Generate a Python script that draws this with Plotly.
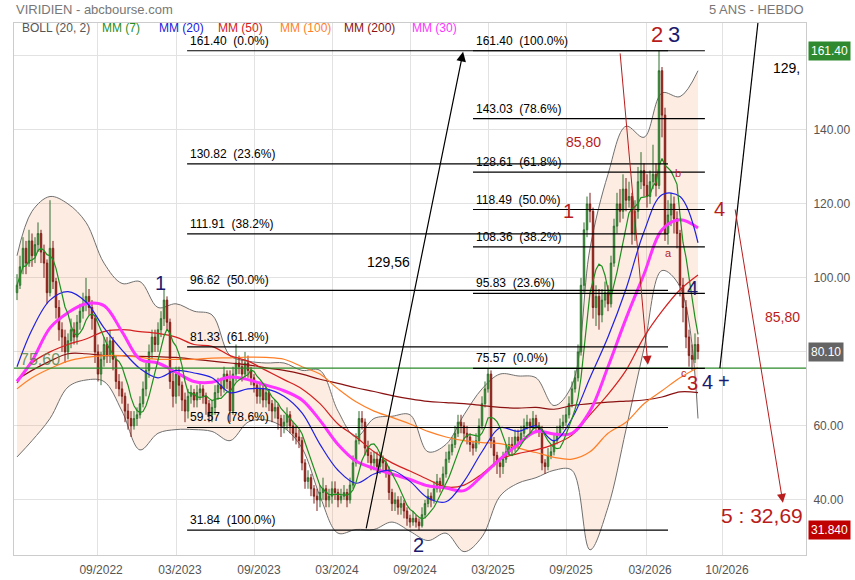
import pandas as pd
import plotly.graph_objects as go

# weekly candles (week index 1..228)
opens = [
    96, 98, 103, 108, 104, 110, 106, 109, 112, 107,
    104, 96, 108, 99, 92, 86, 84, 80, 83, 86,
    84, 88, 91, 93, 95, 92, 89, 80, 74, 78,
    82, 79, 83, 78, 72, 70, 68, 64, 62, 60,
    62, 63, 66, 70, 75, 80, 84, 82, 86, 89,
    94, 88, 72, 68, 74, 71, 67, 64, 68, 69,
    67, 69, 70, 68, 66, 63, 65, 69, 71, 70,
    74, 72, 64, 74, 77, 76, 74, 77, 75, 73,
    71, 68, 70, 67, 69, 66, 64, 65, 62, 60,
    61, 63, 60, 58, 57, 56, 50, 45, 46, 43,
    41, 40, 42, 43, 40, 41, 43, 42, 40, 41,
    42, 40, 44, 50, 56, 62, 61, 54, 52, 50,
    51, 49, 51, 50, 48, 42, 39, 40, 38, 39,
    37, 35, 34, 35, 34, 33, 36, 39, 41, 40,
    43, 45, 44, 47, 51, 53, 55, 58, 61, 60,
    58, 57, 55, 54, 56, 60, 66, 70, 74, 56,
    52, 50, 49, 51, 53, 55, 54, 57, 56, 58,
    60, 61, 60, 62, 60, 59, 50, 49, 52, 53,
    56, 58, 60, 61, 63, 66, 70, 73, 80, 98,
    113, 120, 118, 92, 95, 90, 94, 96, 93, 104,
    114, 120, 118, 124, 121, 122, 112, 118, 126, 129,
    125, 122, 126, 128, 125, 156, 144, 112, 117, 120,
    116, 112, 98, 92, 84, 79, 78, 82]
highs = [
    101, 106, 111, 110, 113, 112, 111, 115, 113, 109,
    105, 121, 110, 100, 94, 88, 86, 85, 89, 88,
    90, 93, 96, 100, 97, 94, 90, 82, 80, 84,
    84, 86, 84, 79, 74, 72, 69, 66, 64, 64,
    65, 68, 72, 77, 82, 86, 86, 88, 91, 97,
    95, 89, 75, 76, 76, 72, 69, 70, 71, 70,
    71, 72, 71, 69, 67, 67, 71, 73, 73, 76,
    75, 75, 76, 82, 79, 78, 80, 79, 76, 74,
    72, 72, 71, 71, 70, 67, 67, 66, 63, 63,
    65, 64, 61, 60, 59, 57, 51, 48, 47, 44,
    43, 44, 46, 44, 43, 45, 45, 43, 43, 44,
    43, 46, 52, 58, 64, 64, 62, 56, 53, 53,
    53, 53, 52, 51, 49, 43, 42, 41, 41, 40,
    38, 36, 37, 36, 35, 38, 40, 43, 42, 45,
    47, 46, 49, 53, 55, 57, 60, 63, 63, 61,
    60, 58, 56, 58, 62, 68, 72, 75.57, 75, 57,
    53, 51, 53, 55, 57, 57, 59, 59, 60, 62,
    63, 62, 64, 63, 61, 60, 51, 54, 55, 58,
    60, 62, 63, 65, 68, 72, 75, 82, 100, 115,
    122, 123, 119, 98, 97, 97, 99, 98, 106, 116,
    123, 124, 128, 127, 126, 123, 121, 130, 134, 131,
    128, 129, 136, 131, 161.4, 157, 146, 121, 123, 122,
    118, 113, 100, 94, 86, 82, 85, 84]
lows = [
    94, 97, 101, 101, 103, 103, 104, 107, 104, 100,
    93, 95, 97, 89, 83, 80, 77, 78, 81, 82,
    82, 86, 89, 91, 90, 86, 77, 72, 71, 76,
    77, 77, 75, 70, 68, 66, 61, 59, 57, 59,
    60, 62, 65, 68, 73, 78, 80, 80, 84, 87,
    86, 70, 65, 66, 68, 64, 61, 62, 66, 65,
    65, 67, 66, 63, 61, 61, 63, 67, 68, 69,
    70, 61, 63, 72, 74, 72, 73, 73, 71, 69,
    66, 66, 65, 65, 64, 61, 62, 59, 57, 58,
    59, 58, 56, 55, 54, 48, 43, 43, 41, 39,
    37, 38, 40, 38, 38, 39, 40, 38, 39, 40,
    38, 39, 43, 49, 55, 59, 52, 50, 48, 48,
    47, 47, 48, 46, 40, 37, 37, 36, 36, 35,
    33, 32.5, 33, 32.5, 31.84, 32.5, 35, 38, 38, 39,
    42, 42, 43, 46, 50, 52, 54, 57, 58, 56,
    55, 53, 52, 53, 55, 59, 65, 69, 54, 49,
    47, 46, 47, 50, 52, 52, 53, 54, 55, 57,
    59, 58, 59, 58, 57, 48, 47, 48, 51, 52,
    55, 57, 59, 60, 62, 65, 69, 72, 79, 96,
    111, 115, 89, 87, 86, 88, 92, 91, 92, 103,
    112, 115, 116, 118, 119, 109, 110, 116, 124, 122,
    119, 120, 124, 122, 124, 138, 110, 109, 114, 112,
    108, 95, 88, 81, 76, 75, 77, 78]
closes = [
    98, 103, 108, 104, 110, 106, 109, 112, 107, 104,
    96, 108, 99, 92, 86, 84, 80, 83, 86, 84,
    88, 91, 93, 95, 92, 89, 80, 74, 78, 82,
    79, 83, 78, 72, 70, 68, 64, 62, 60, 62,
    63, 66, 70, 75, 80, 84, 82, 86, 89, 94,
    88, 72, 68, 74, 71, 67, 64, 68, 69, 67,
    69, 70, 68, 66, 63, 65, 69, 71, 70, 74,
    72, 64, 74, 77, 76, 74, 77, 75, 73, 71,
    68, 70, 67, 69, 66, 64, 65, 62, 60, 61,
    63, 60, 58, 57, 56, 50, 45, 46, 43, 41,
    40, 42, 43, 40, 41, 43, 42, 40, 41, 42,
    40, 44, 50, 56, 62, 61, 54, 52, 50, 51,
    49, 51, 50, 48, 42, 39, 40, 38, 39, 37,
    35, 34, 35, 34, 33, 36, 39, 41, 40, 43,
    45, 44, 47, 51, 53, 55, 58, 61, 60, 58,
    57, 55, 54, 56, 60, 66, 70, 74, 56, 52,
    50, 49, 51, 53, 55, 54, 57, 56, 58, 60,
    61, 60, 62, 60, 59, 50, 49, 52, 53, 56,
    58, 60, 61, 63, 66, 70, 73, 80, 98, 113,
    120, 118, 92, 95, 90, 94, 96, 93, 104, 114,
    120, 118, 124, 121, 122, 112, 118, 126, 129, 125,
    122, 126, 128, 125, 156, 144, 112, 117, 120, 116,
    112, 98, 92, 84, 79, 78, 82, 80.1]
assert len(opens) == len(highs) == len(lows) == len(closes)
weeks = list(range(1, len(closes) + 1))

# indicators every 6 weeks
ind_weeks = [1, 6, 12, 18, 24, 30, 36, 42, 48, 54, 60, 66, 72, 78, 84, 90, 96, 102, 108, 114,
             120, 126, 132, 138, 144, 150, 156, 162, 168, 174, 180, 186, 192, 198, 204, 210, 216, 222, 228]
boll_up = [106, 118, 122, 120, 115, 104, 98.5, 99, 92, 93, 91, 90, 79, 77.5, 77, 77, 75, 75, 64, 57,
           62, 62.6, 63, 53, 55, 63, 70, 74, 73.5, 73, 65.5, 71, 108, 128, 141, 138, 150, 149, 156]
boll_low = [51.6, 56, 62, 70.5, 72.4, 72, 64, 53.5, 58, 59, 59, 58.5, 56, 61, 61.6, 59.5, 54, 41, 31, 32,
            32, 34, 31.5, 29, 31, 26, 30, 41, 44.5, 46, 48, 48, 26.5, 38, 59, 81, 102, 97.6, 62]
mm20 = [76, 86, 94, 96.3, 93.5, 86.5, 80.5, 75.5, 73, 75, 74.3, 73, 69, 70, 70, 68, 63.5, 55, 48, 44.5,
        47, 48, 45, 40.5, 39.5, 45, 53, 59.5, 58.5, 60, 56, 62, 73, 84, 97, 112.5, 122.5, 122, 109.5]
mm30 = [72, 77.5, 86.5, 90.6, 93, 92.5, 85.5, 78, 77, 74.5, 72, 71.8, 73.2, 72.5, 71, 69.5, 67, 61.5, 55, 50.5,
        48.5, 47, 45.5, 43.8, 43.2, 42.5, 46.5, 51, 55, 58.5, 57.8, 58, 64, 76, 89, 101, 113, 115.7, 113.5]
mm50 = [71.6, 77, 80, 82, 83.5, 85.5, 86, 85.5, 85, 84, 82, 81.5, 79, 77.5, 75, 72.5, 70, 66, 60.5, 57,
        53, 50, 47.8, 45.5, 43.5, 44, 47, 51, 52.5, 53.5, 55, 57.5, 63, 68.5, 75, 84, 91, 96.8, 100.8]
mm100 = [70, 73, 75.5, 77.5, 78.5, 79, 79, 78.5, 78, 78, 78, 78.3, 78.4, 78.6, 78.5, 78, 76, 74, 70, 66.5,
         64, 62.3, 60.5, 58.5, 57, 56, 55.5, 55.2, 54, 52.8, 51.5, 51, 53, 58, 61, 66, 69.5, 73, 75.8]
mm200 = [72.5, 75, 77.5, 79.5, 79.5, 79, 79, 78.8, 78.7, 78.5, 78, 77.5, 77, 76.5, 75.7, 75, 74, 72.6, 71.5, 70.3,
         69.3, 68.2, 67.3, 66.6, 66.3, 66, 65.5, 65, 64.8, 65, 64.5, 65.5, 66, 66.4, 66.7, 67, 67.8, 69.2, 69]
mm7 = pd.Series(closes).rolling(7, min_periods=1).mean()

fib_left = [161.40, 130.82, 111.91, 96.62, 81.33, 59.57, 31.84]
fib_left_pct = ["0.0%", "23.6%", "38.2%", "50.0%", "61.8%", "78.6%", "100.0%"]
fib_right = [161.40, 143.03, 128.61, 118.49, 108.36, 95.83, 75.57]
fib_right_pct = ["100.0%", "78.6%", "61.8%", "50.0%", "38.2%", "23.6%", "0.0%"]

tick_pos = [27.7, 54, 80.3, 106.3, 132.3, 158.3, 184.3, 210.7, 236.3]
tick_labels = ["09/2022", "03/2023", "09/2023", "03/2024", "09/2024", "03/2025", "09/2025", "03/2026", "10/2026"]
price_ticks = [40, 60, 80, 100, 120, 140, 160]
# 80 and 160 sit under the price badges, so their labels stay blank
price_labels = ["40.00", "60.00", "", "100.00", "120.00", "140.00", ""]

support = 75.60
last_close = 80.10
top_level = 161.40
low_level = 31.84

RED = "#b81c1c"
NAVY = "#1a1a6e"
FONT = "Liberation Sans"
YRANGE = [25.1, 168.9]

fig = go.Figure()

# bollinger band on the base axis, everything else on an overlay axis drawn above it
fig.add_trace(go.Scatter(x=ind_weeks, y=boll_up, mode="lines", line=dict(color="#707070", width=1, shape="spline"),
                         hoverinfo="skip"))
fig.add_trace(go.Scatter(x=ind_weeks, y=boll_low, mode="lines", line=dict(color="#707070", width=1, shape="spline"),
                         fill="tonexty", fillcolor="rgba(244,150,95,0.18)", hoverinfo="skip"))

fig.add_trace(go.Candlestick(
    x=weeks, open=opens, high=highs, low=lows, close=closes, whiskerwidth=0, yaxis="y2",
    increasing=dict(fillcolor="#3cbf3c", line=dict(color="#2f6f2f", width=1)),
    decreasing=dict(fillcolor="#cc2a1e", line=dict(color="#7c1f18", width=1)),
    hoverinfo="skip"))

def ma_line(y, color, width, x=ind_weeks, shape="spline"):
    fig.add_trace(go.Scatter(x=x, y=y, mode="lines", line=dict(color=color, width=width, shape=shape),
                             yaxis="y2", hoverinfo="skip"))

ma_line(mm200, "#8b1212", 1.2)
ma_line(mm100, "#ff7f27", 1.2)
ma_line(mm50, "#d42020", 1.2)
ma_line(mm30, "#ff33ff", 3)
ma_line(mm20, "#2020e0", 1.2)
ma_line(list(mm7), "#1f8f1f", 1.2, x=weeks, shape="linear")

shapes = []
annotations = []

# support line
shapes.append(dict(type="line", xref="paper", x0=0, x1=1, yref="y", y0=support, y1=support,
                   line=dict(color="#2a8a2a", width=1.2)))
annotations.append(dict(x=1.3, y=support + 2.4, text="75.60", showarrow=False, xanchor="left",
                        font=dict(size=16, color="rgba(70,125,70,0.8)")))

# fibonacci retracements
for lvl, pct in zip(fib_left, fib_left_pct):
    shapes.append(dict(type="line", x0=57.7, x1=218, y0=lvl, y1=lvl, line=dict(color="black", width=1.2)))
    annotations.append(dict(x=58, y=lvl, text=f"{lvl:.2f}\u00a0\u00a0({pct})", showarrow=False,
                            xanchor="left", yanchor="bottom", yshift=1, font=dict(size=12, color="black")))
for lvl, pct in zip(fib_right, fib_right_pct):
    shapes.append(dict(type="line", x0=153, x1=230.3, y0=lvl, y1=lvl, line=dict(color="black", width=1.2)))
    annotations.append(dict(x=153.3, y=lvl, text=f"{lvl:.2f}\u00a0\u00a0({pct})", showarrow=False,
                            xanchor="left", yanchor="bottom", yshift=1, font=dict(size=12, color="black")))

# trend arrows
annotations.append(dict(x=149.7, y=161.1, ax=117.3, ay=31.9, axref="x", ayref="y", text="", showarrow=True,
                        arrowhead=2, arrowsize=1.6, arrowwidth=1.2, arrowcolor="black"))
shapes.append(dict(type="line", x0=235.3, y0=support, x1=248.8, y1=175, line=dict(color="black", width=1.2)))
annotations.append(dict(x=211.3, y=76.5, ax=202, ay=161.1, axref="x", ayref="y", text="", showarrow=True,
                        arrowhead=2, arrowsize=1.8, arrowwidth=1, arrowcolor=RED))
annotations.append(dict(x=256.3, y=39.2, ax=240.3, ay=118.9, axref="x", ayref="y", text="", showarrow=True,
                        arrowhead=2, arrowsize=1.8, arrowwidth=1, arrowcolor=RED))

def label(x, y, text, color, size):
    annotations.append(dict(x=x, y=y, text=text, showarrow=False, font=dict(size=size, color=color)))

label(124.7, 104.3, "129,56", "black", 14)
label(257.5, 156.8, "129,", "black", 14)
label(189.7, 136.8, "85,80", RED, 14)
label(256, 89.5, "85,80", RED, 14)
label(249.3, 35.7, "5 : 32,69", RED, 21)
label(48.7, 98.6, "1", NAVY, 20)
label(134.7, 27.8, "2", NAVY, 20)
label(184.7, 118.1, "1", RED, 20)
label(214.3, 165.7, "2", RED, 22)
label(220, 165.7, "3", NAVY, 22)
label(235, 118.6, "4", RED, 20)
label(226, 97.3, "4", NAVY, 20)
label(221.3, 128.4, "b", RED, 11)
label(218.3, 106.8, "a", RED, 11)
label(223.3, 74.3, "c", RED, 11)
label(226.3, 71.6, "3", RED, 20)
label(231, 71.9, "4", NAVY, 20)
label(236.7, 72.2, "+", NAVY, 20)

# price badges on the right axis
for val, bg in [(top_level, "#2f8a2f"), (last_close, "#646464"), (low_level, "#c00000")]:
    txt = f"{val:.2f}" if val != low_level else f"{val:.3f}"
    annotations.append(dict(xref="paper", x=1.0, xshift=2, y=val, text=txt, showarrow=False, xanchor="left",
                            bgcolor=bg, borderpad=2, font=dict(size=12, color="white")))

# header texts
annotations.append(dict(xref="paper", yref="paper", x=0, y=1.026, text="VIRIDIEN - abcbourse.com",
                        showarrow=False, xanchor="left", yanchor="middle", font=dict(size=13, color="#777")))
annotations.append(dict(xref="paper", yref="paper", x=1, y=1.026, text="5 ANS - HEBDO",
                        showarrow=False, xanchor="right", yanchor="middle", font=dict(size=13, color="#777")))
legend_items = [("BOLL (20, 2)", "#555", 20), ("MM (7)", "#1f8f1f", 100), ("MM (20)", "#2020e0", 157),
                ("MM (50)", "#d42020", 216), ("MM (100)", "#ff7f27", 278), ("MM (200)", "#8b1212", 342),
                ("MM (30)", "#ff33ff", 410)]
for name, col, px in legend_items:
    annotations.append(dict(xref="paper", yref="paper", x=(px - 14) / 792, y=(555 - 28) / 532, text=name,
                            showarrow=False, xanchor="left", yanchor="middle", font=dict(size=12, color=col)))

fig.update_layout(
    width=855, height=580, margin=dict(l=14, r=49, t=23, b=25),
    plot_bgcolor="white", paper_bgcolor="white", showlegend=False,
    font=dict(family=FONT, size=12, color="#555"),
    shapes=shapes, annotations=annotations,
    xaxis=dict(range=[0, 264], tickvals=tick_pos, ticktext=tick_labels, showgrid=True, gridcolor="#e2e2e2",
               showline=True, linecolor="#cccccc", mirror=True, ticks="", zeroline=False, automargin=False,
               ticklabelshift=4, ticklabelstandoff=4,
               rangeslider=dict(visible=False), tickfont=dict(size=12, color="#555")),
    yaxis=dict(side="right", range=YRANGE, tickvals=price_ticks, ticktext=price_labels,
               showgrid=True, gridcolor="#e2e2e2",
               showline=True, linecolor="#cccccc", mirror=True, ticks="", zeroline=False, automargin=False,
               ticklabelstandoff=4, tickfont=dict(size=12, color="#555")),
    yaxis2=dict(overlaying="y", side="right", range=YRANGE, visible=False, showgrid=False),
)

# drop the default 8px page margin so the figure sits at the window corner
fig.write_html("out.html", config={"displayModeBar": False},
               post_script="document.body.style.margin='0';")
